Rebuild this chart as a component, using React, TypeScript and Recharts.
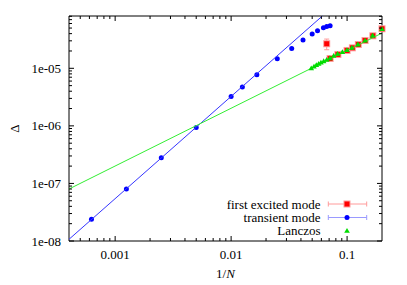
import React from 'react';
import { ScatterChart, Scatter, XAxis, YAxis, ErrorBar, Legend } from 'recharts';

const FONT = "'Liberation Serif', 'Times New Roman', serif";

// axis ticks
const xDomain = [4e-4, 0.2];
const yDomain = [1e-8, 8.1e-5];
const xMajorTicks = [0.001, 0.01, 0.1];
const xMajorLabels = ['0.001', '0.01', '0.1'];
const xMinorTicks = [5e-4, 6e-4, 7e-4, 8e-4, 9e-4, 2e-3, 3e-3, 4e-3, 5e-3, 6e-3, 7e-3, 8e-3, 9e-3, 0.02, 0.03, 0.04, 0.05, 0.06, 0.07, 0.08, 0.09];
const yMajorTicks = [1e-8, 1e-7, 1e-6, 1e-5];
const yMajorLabels = ['1e-08', '1e-07', '1e-06', '1e-05'];
const yMinorTicks = [2e-8, 3e-8, 4e-8, 5e-8, 6e-8, 7e-8, 8e-8, 9e-8, 2e-7, 3e-7, 4e-7, 5e-7, 6e-7, 7e-7, 8e-7, 9e-7, 2e-6, 3e-6, 4e-6, 5e-6, 6e-6, 7e-6, 8e-6, 9e-6, 2e-5, 3e-5, 4e-5, 5e-5, 6e-5, 7e-5, 8e-5];

// transient mode (blue circles)
const transientX = [0.000625, 0.00125, 0.0025, 0.005, 0.01, 0.0125, 0.01667, 0.025, 0.0333, 0.04167, 0.05, 0.0556, 0.0625, 0.0667, 0.0714];
const transientY = [2.38e-8, 8.0e-8, 2.78e-7, 9.34e-7, 3.23e-6, 4.71e-6, 7.71e-6, 1.46e-5, 2.21e-5, 3.09e-5, 3.93e-5, 4.49e-5, 5.06e-5, 5.33e-5, 5.48e-5];

// first excited mode (red squares)
const excitedX = [0.0667, 0.0714, 0.0833, 0.1, 0.1111, 0.125, 0.1429, 0.1667, 0.2];
const excitedY = [2.67e-5, 1.48e-5, 1.74e-5, 2.04e-5, 2.27e-5, 2.59e-5, 3.04e-5, 3.67e-5, 4.86e-5];
const excitedErrLow = [0.57e-5, 0, 0, 0, 0, 0, 0, 0, 0];
const excitedErrHigh = [0.55e-5, 0, 0, 0, 0, 0, 0, 0, 0];

// Lanczos (green triangles)
const lanczosX = [0.0491, 0.0518, 0.0543, 0.0569, 0.0595, 0.0628, 0.0667, 0.0711, 0.0766, 0.0829, 0.0911, 0.0998, 0.110, 0.124, 0.143, 0.166, 0.2];
const lanczosY = [1.0e-5, 1.07e-5, 1.14e-5, 1.20e-5, 1.26e-5, 1.33e-5, 1.41e-5, 1.50e-5, 1.65e-5, 1.79e-5, 1.91e-5, 2.07e-5, 2.27e-5, 2.60e-5, 3.04e-5, 3.72e-5, 4.81e-5];

// fit lines (end points)
const blueFitX = [4e-4, 0.0612];
const blueFitY = [1.07e-8, 8.1e-5];
const greenFitX = [4e-4, 0.2];
const greenFitY = [8.0e-8, 4.09e-5];

const legendLabels = ['first excited mode', 'transient mode', 'Lanczos'];

const transientData = transientX.map((x, i) => ({ x, y: transientY[i] }));
const excitedData = excitedX.map((x, i) => ({ x, y: excitedY[i], err: [excitedErrLow[i], excitedErrHigh[i]] }));
const lanczosData = lanczosX.map((x, i) => ({ x, y: lanczosY[i] }));
const blueFitData = blueFitX.map((x, i) => ({ x, y: blueFitY[i] }));
const greenFitData = greenFitX.map((x, i) => ({ x, y: greenFitY[i] }));

const xAllTicks = [...xMajorTicks, ...xMinorTicks];
const yAllTicks = [...yMajorTicks, ...yMinorTicks];

const BLUE = '#0000ff';
const BLUE_LINE = '#3535ff';
const RED = '#ff0000';
const GREEN = '#00dd00';
const GREEN_LINE = '#33ee33';
const PINK = '#ff9a9a';
const LIGHTBLUE = '#9a9aff';

const Circle = (p: any) => <circle cx={p.cx} cy={p.cy} r={2.5} fill={BLUE} />;
const Square = (p: any) => (
  <g>
    <rect x={p.cx - 3.5} y={p.cy - 3.5} width={7} height={7} fill={PINK} />
    <rect x={p.cx - 2.5} y={p.cy - 2.5} width={5} height={5} fill={RED} />
  </g>
);
const Tri = (p: any) => (
  <polygon points={`${p.cx},${p.cy - 2.8} ${p.cx - 2.8},${p.cy + 2} ${p.cx + 2.8},${p.cy + 2}`} fill={GREEN} />
);
const Empty = () => <g />;

const YTitle = (props: any) => {
  const vb = props.viewBox || { x: 11, y: 8, width: 50, height: 225 };
  const cx = vb.x - 5;
  const cy = vb.y + vb.height / 2;
  return (
    <text x={cx} y={cy} transform={`rotate(-90, ${cx}, ${cy})`} textAnchor="middle" dominantBaseline="central" fontSize={13} fontFamily={FONT} fill="#000">
      Δ
    </text>
  );
};

const XTitle = (props: any) => {
  const vb = props.viewBox || { x: 61, y: 233, width: 313, height: 30 };
  return (
    <text x={vb.x + vb.width / 2} y={vb.y + 32} textAnchor="middle" dominantBaseline="central" fontSize={13} fontFamily={FONT} fill="#000">
      1/<tspan fontStyle="italic">N</tspan>
    </text>
  );
};

const LegendBox = () => {
  const rows = [196, 209.5, 222.7];
  const x0 = 320.3, x1 = 358.7, xm = 339;
  return (
    <svg width={399} height={277} style={{ position: 'absolute', left: 0, top: 0 }}>
      {legendLabels.map((l, i) => (
        <text key={l} x={312.5} y={rows[i]} textAnchor="end" dominantBaseline="central" fontSize={13} fontFamily={FONT} fill="#000">{l}</text>
      ))}
      <g stroke={PINK} strokeWidth={1}>
        <line x1={x0} y1={rows[0]} x2={x1} y2={rows[0]} />
        <line x1={x0} y1={rows[0] - 2.5} x2={x0} y2={rows[0] + 2.5} />
        <line x1={x1} y1={rows[0] - 2.5} x2={x1} y2={rows[0] + 2.5} />
      </g>
      <Square cx={xm} cy={rows[0]} />
      <g stroke={LIGHTBLUE} strokeWidth={1}>
        <line x1={x0} y1={rows[1]} x2={x1} y2={rows[1]} />
        <line x1={x0} y1={rows[1] - 2.5} x2={x0} y2={rows[1] + 2.5} />
        <line x1={x1} y1={rows[1] - 2.5} x2={x1} y2={rows[1] + 2.5} />
      </g>
      <Circle cx={xm} cy={rows[1]} />
      <Tri cx={xm} cy={rows[2]} />
    </svg>
  );
};

const MAJOR = 5;
const MINOR = 3;

// tick renderers drawing inward tick marks
const makeTick = (side: 'top' | 'bottom' | 'left' | 'right', majors: number[]) => (p: any) => {
  const v = p.payload?.value;
  const len = majors.includes(v) ? MAJOR : MINOR;
  const x = p.x, y = p.y;
  let x2 = x, y2 = y;
  if (side === 'bottom') y2 = y - len;
  if (side === 'top') y2 = y + len;
  if (side === 'left') x2 = x + len;
  if (side === 'right') x2 = x - len;
  return <line x1={x} y1={y} x2={x2} y2={y2} stroke="#000" strokeWidth={1} />;
};

export default function App() {
  const tickStyle = { fontSize: 13, fill: '#000', fontFamily: FONT };
  return (
    <ScatterChart width={399} height={277} margin={{ top: 8, right: 25, bottom: 14, left: 11 }}>
      <XAxis
        xAxisId="x"
        type="number"
        scale="log"
        dataKey="x"
        domain={xDomain}
        ticks={xMajorTicks}
        interval={0}
        height={30}
        tickLine={false}
        tickMargin={3}
        axisLine={{ stroke: '#000' }}
        tick={tickStyle}
        tickFormatter={(v: number) => xMajorLabels[xMajorTicks.indexOf(v)] ?? String(v)}
        label={<XTitle />}
      />
      <YAxis
        yAxisId="y"
        type="number"
        scale="log"
        dataKey="y"
        domain={yDomain}
        ticks={yMajorTicks}
        interval={0}
        width={50}
        tickLine={false}
        axisLine={{ stroke: '#000' }}
        tick={tickStyle}
        tickFormatter={(v: number) => yMajorLabels[yMajorTicks.indexOf(v)] ?? String(v)}
        label={<YTitle />}
      />
      <XAxis xAxisId="xb" type="number" scale="log" dataKey="x" domain={xDomain} allowDataOverflow ticks={xAllTicks} interval={0}
        orientation="bottom" mirror height={10} tickSize={0} tickMargin={0} tickLine={false} axisLine={false} tick={makeTick('bottom', xMajorTicks)} />
      <XAxis xAxisId="xt" type="number" scale="log" dataKey="x" domain={xDomain} allowDataOverflow ticks={xAllTicks} interval={0}
        orientation="top" mirror height={10} tickSize={0} tickMargin={0} tickLine={false} axisLine={{ stroke: '#000' }} tick={makeTick('top', xMajorTicks)} />
      <YAxis yAxisId="yl" type="number" scale="log" dataKey="y" domain={yDomain} allowDataOverflow ticks={yAllTicks} interval={0}
        orientation="left" mirror width={10} tickSize={0} tickMargin={0} tickLine={false} axisLine={false} tick={makeTick('left', yMajorTicks)} />
      <YAxis yAxisId="yr" type="number" scale="log" dataKey="y" domain={yDomain} allowDataOverflow ticks={yAllTicks} interval={0}
        orientation="right" mirror width={10} tickSize={0} tickMargin={0} tickLine={false} axisLine={{ stroke: '#000' }} tick={makeTick('right', yMajorTicks)} />

      <Scatter name="first excited mode" xAxisId="x" yAxisId="y" data={excitedData} shape={Square} isAnimationActive={false}>
        <ErrorBar dataKey="err" direction="y" width={2.5} stroke={PINK} strokeWidth={1} isAnimationActive={false} />
      </Scatter>
      <Scatter name="transient mode" xAxisId="x" yAxisId="y" data={transientData} shape={Circle} isAnimationActive={false} />
      <Scatter name="blue fit" xAxisId="x" yAxisId="y" data={blueFitData} line={{ stroke: BLUE_LINE, strokeWidth: 1 }} shape={Empty} isAnimationActive={false} legendType="none" />
      <Scatter name="green fit" xAxisId="x" yAxisId="y" data={greenFitData} line={{ stroke: GREEN_LINE, strokeWidth: 1 }} shape={Empty} isAnimationActive={false} legendType="none" />
      <Scatter name="Lanczos" xAxisId="x" yAxisId="y" data={lanczosData} shape={Tri} isAnimationActive={false} />
      <Legend
        layout="vertical"
        align="center"
        verticalAlign="middle"
        wrapperStyle={{ position: 'absolute', left: 0, top: 0, width: 399, height: 277, pointerEvents: 'none' }}
        content={() => <LegendBox />}
      />
    </ScatterChart>
  );
}
